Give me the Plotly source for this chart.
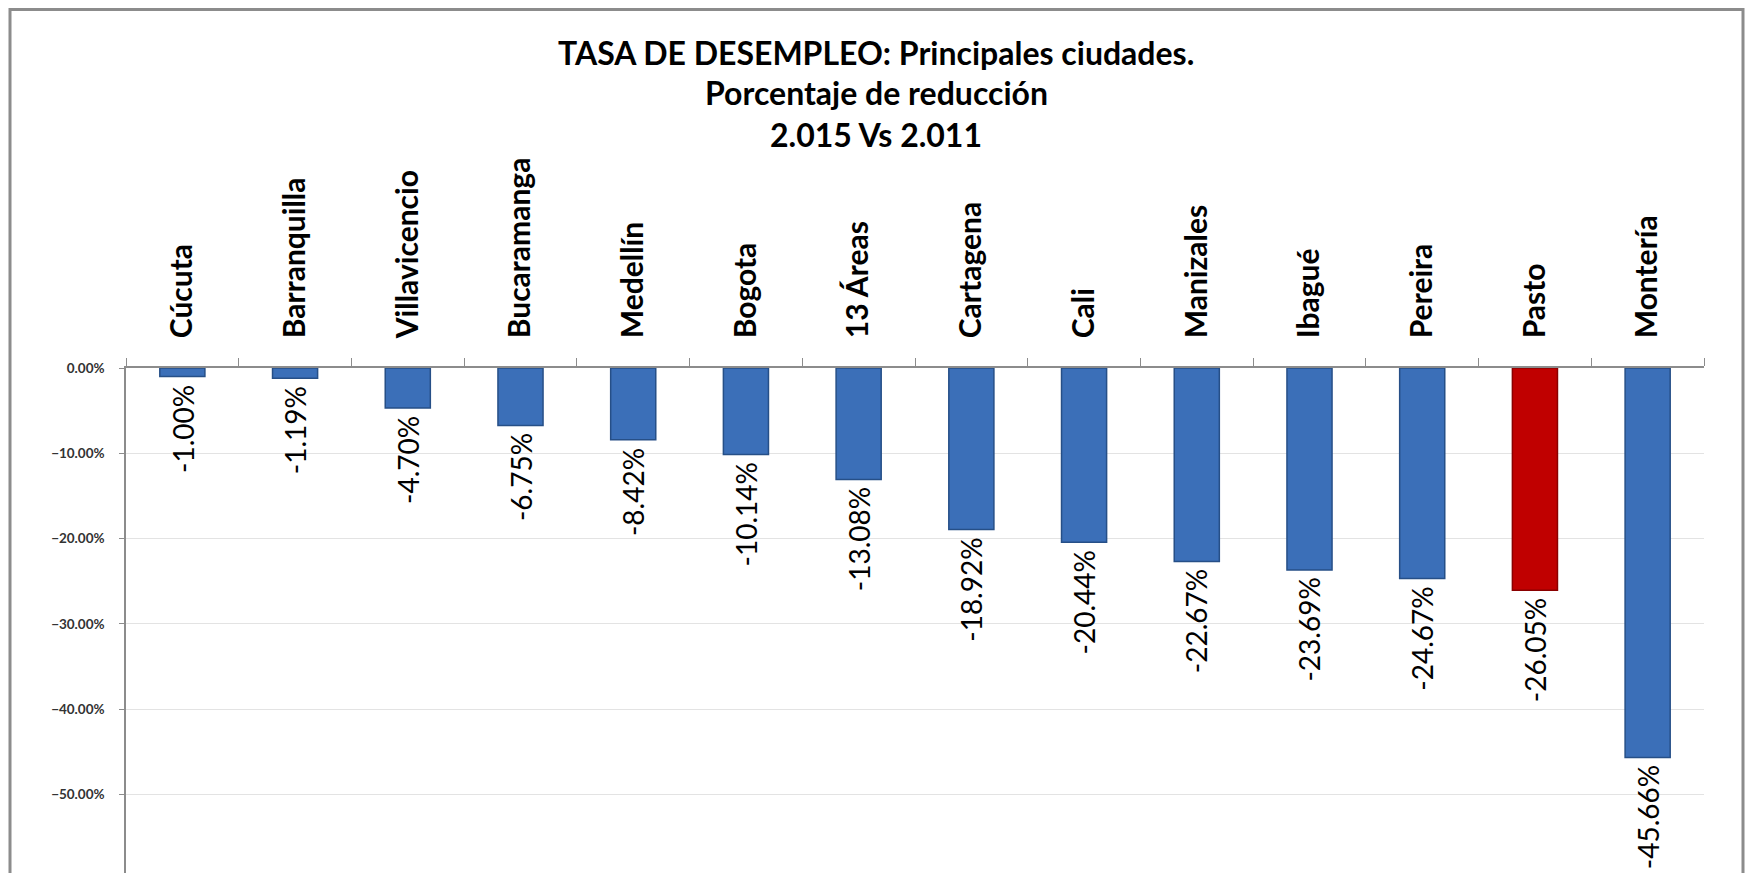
import plotly.graph_objects as go

cities = ["Cúcuta", "Barranquilla", "Villavicencio", "Bucaramanga", "Medellín", "Bogota",
          "13 Áreas", "Cartagena", "Cali", "Manizales", "Ibagué", "Pereira", "Pasto", "Montería"]
values = [-1.00, -1.19, -4.70, -6.75, -8.42, -10.14, -13.08, -18.92, -20.44, -22.67,
          -23.69, -24.67, -26.05, -45.66]
highlight = "Pasto"
title_lines = ["TASA DE DESEMPLEO: Principales ciudades.", "Porcentaje de reducción", "2.015 Vs 2.011"]

# page body has an 8px margin; figure sized to fit the 1755x873 window
OFF = 8
W, H = 1755 - OFF, 873 - OFF
ML, MR, MT, MB = 126 - OFF, 51, 368 - OFF, 0
pw = W - ML - MR
ph = H - MT - MB

fill = ["#c00000" if c == highlight else "#3b6fb8" for c in cities]
edge = ["#8a0000" if c == highlight else "#264f87" for c in cities]

fig = go.Figure()
fig.add_trace(go.Bar(
    x=cities, y=values,
    marker=dict(color=fill, line=dict(color=edge, width=1.5)),
    hoverinfo="x+y",
))

for c, v in zip(cities, values):
    fig.add_annotation(
        x=c, y=v, text=f"{v:.2f}%", textangle=-90,
        showarrow=False, yanchor="top", xanchor="center", yshift=-6,
        font=dict(family="Lato", size=28, color="#000000"),
    )

# title lines (screen centre y positions of each line)
for line, ys in zip(title_lines, [53, 92, 134]):
    fig.add_annotation(
        xref="paper", yref="paper",
        x=(876 - OFF - ML) / pw, y=1 + (MT - (ys - OFF)) / ph,
        xanchor="center", yanchor="middle", showarrow=False,
        text=f"<b>{line}</b>",
        font=dict(family="Lato", size=32, color="#000000"),
    )

fig.add_shape(
    type="rect", xref="paper", yref="paper",
    x0=(10 - OFF - ML) / pw, x1=(1743 - OFF - ML) / pw,
    y0=-0.1, y1=(H - 1.5) / ph,
    line=dict(color="#8c8c8c", width=3), fillcolor="rgba(0,0,0,0)", layer="below",
)

fig.update_layout(
    width=W, height=H,
    margin=dict(l=ML, r=MR, t=MT, b=MB),
    paper_bgcolor="white", plot_bgcolor="white",
    showlegend=False, bargap=0.6,
    xaxis=dict(
        type="category", side="top", tickangle=-90,
        ticks="outside", tickson="boundaries", ticklen=8, tickcolor="#8c8c8c",
        showline=True, linecolor="#8c8c8c", linewidth=1.5,
        showgrid=False, ticklabelstandoff=22,
        tickfont=dict(family="Lato", size=30, color="#000000", weight="bold"),
    ),
    yaxis=dict(
        range=[-59.2, 0], dtick=10, tick0=0,
        tickformat=".2f", ticksuffix="%",
        ticks="outside", ticklen=5, tickcolor="#8c8c8c",
        showline=True, linecolor="#8c8c8c", linewidth=1.5,
        showgrid=True, gridcolor="#e3e3e3", gridwidth=1,
        zeroline=False, ticklabelstandoff=12,
        tickfont=dict(family="Lato", size=13.5, color="#333333", weight="bold"),
    ),
)

fig.write_html("out.html")
